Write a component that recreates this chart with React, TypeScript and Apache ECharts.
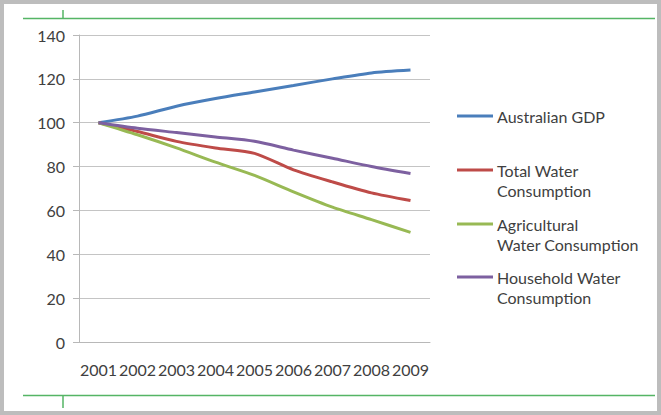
import React, { useEffect, useRef } from "react";
import * as echarts from "echarts";

const years = ["2001", "2002", "2003", "2004", "2005", "2006", "2007", "2008", "2009"];
const gdp = [100, 103, 107.5, 111, 114, 117, 120, 122.7, 124];
const totalWater = [100, 96, 91.5, 88.5, 86, 78.5, 73, 68, 64.5];
const agriculturalWater = [100, 94.5, 88.5, 82, 76, 68.5, 61.5, 55.8, 50];
const householdWater = [100, 97.5, 95.5, 93.5, 91.5, 87.5, 83.8, 80, 76.8];

const seriesNames = [
  "Australian GDP",
  "Total Water Consumption",
  "Agricultural Water Consumption",
  "Household Water Consumption",
];
const legendLabels = [
  "Australian GDP",
  "Total Water\nConsumption",
  "Agricultural\nWater Consumption",
  "Household Water\nConsumption",
];
const seriesColors = ["#4a7ebb", "#be4b48", "#98b954", "#7d60a0"];

const FONT = "Lato";
const TEXT_COLOR = "#404040";
const FRAME_GREEN = "#55b565";

export default function App() {
  const ref = useRef<HTMLDivElement>(null);

  useEffect(() => {
    document.body.style.margin = "0";
    if (!ref.current) return;
    const chart = echarts.init(ref.current, undefined, { renderer: "svg" });

    const values = [gdp, totalWater, agriculturalWater, householdWater];
    const legendTops = [116, 170, 224, 277];

    const legendItems: any[] = [];
    seriesNames.forEach((_, i) => {
      legendItems.push({
        type: "line",
        shape: { x1: 457, y1: legendTops[i], x2: 493, y2: legendTops[i] },
        style: { stroke: seriesColors[i], lineWidth: 3 },
      });
      legendItems.push({
        type: "text",
        x: 497,
        y: legendTops[i] - 10,
        style: {
          text: legendLabels[i],
          font: `16px ${FONT}`,
          fill: TEXT_COLOR,
          lineHeight: 20,
          verticalAlign: "top",
        },
      });
    });

    chart.setOption({
      animation: false,
      backgroundColor: "#ffffff",
      grid: { left: 79, right: 231, top: 35, bottom: 73, containLabel: false },
      xAxis: {
        type: "category",
        data: years,
        boundaryGap: true,
        axisLine: { lineStyle: { color: "#b8b8b8", width: 1 } },
        axisTick: { show: false },
        axisLabel: {
          color: TEXT_COLOR,
          fontFamily: FONT,
          fontSize: 16,
          margin: 19,
          interval: 0,
        },
      },
      yAxis: {
        type: "value",
        min: 0,
        max: 140,
        interval: 20,
        axisLine: { show: true, lineStyle: { color: "#b8b8b8", width: 1 } },
        axisTick: { show: true, length: 6, lineStyle: { color: "#b8b8b8" } },
        splitLine: { lineStyle: { color: "#c4c4c4", width: 1 } },
        axisLabel: {
          color: TEXT_COLOR,
          fontFamily: FONT,
          fontSize: 16,
          margin: 14,
        },
      },
      series: seriesNames.map((name, i) => ({
        name,
        type: "line",
        data: values[i],
        smooth: 0.25,
        showSymbol: false,
        symbol: "none",
        lineStyle: { color: seriesColors[i], width: 3 },
        itemStyle: { color: seriesColors[i] },
      })),
      graphic: [
        {
          type: "rect",
          shape: { x: 2, y: 2, width: 657, height: 411 },
          style: { fill: "none", stroke: "#bdbdbd", lineWidth: 4 },
          silent: true,
        },
        {
          type: "line",
          shape: { x1: 23, y1: 18.5, x2: 655, y2: 18.5 },
          style: { stroke: FRAME_GREEN, lineWidth: 1.5 },
        },
        {
          type: "line",
          shape: { x1: 63, y1: 10, x2: 63, y2: 18.5 },
          style: { stroke: FRAME_GREEN, lineWidth: 1.5 },
        },
        {
          type: "line",
          shape: { x1: 23, y1: 395.5, x2: 655, y2: 395.5 },
          style: { stroke: FRAME_GREEN, lineWidth: 1.5 },
        },
        {
          type: "line",
          shape: { x1: 63, y1: 395.5, x2: 63, y2: 408 },
          style: { stroke: FRAME_GREEN, lineWidth: 1.5 },
        },
        ...legendItems,
      ],
    });

    return () => chart.dispose();
  }, []);

  return <div ref={ref} style={{ width: 661, height: 415 }} />;
}
